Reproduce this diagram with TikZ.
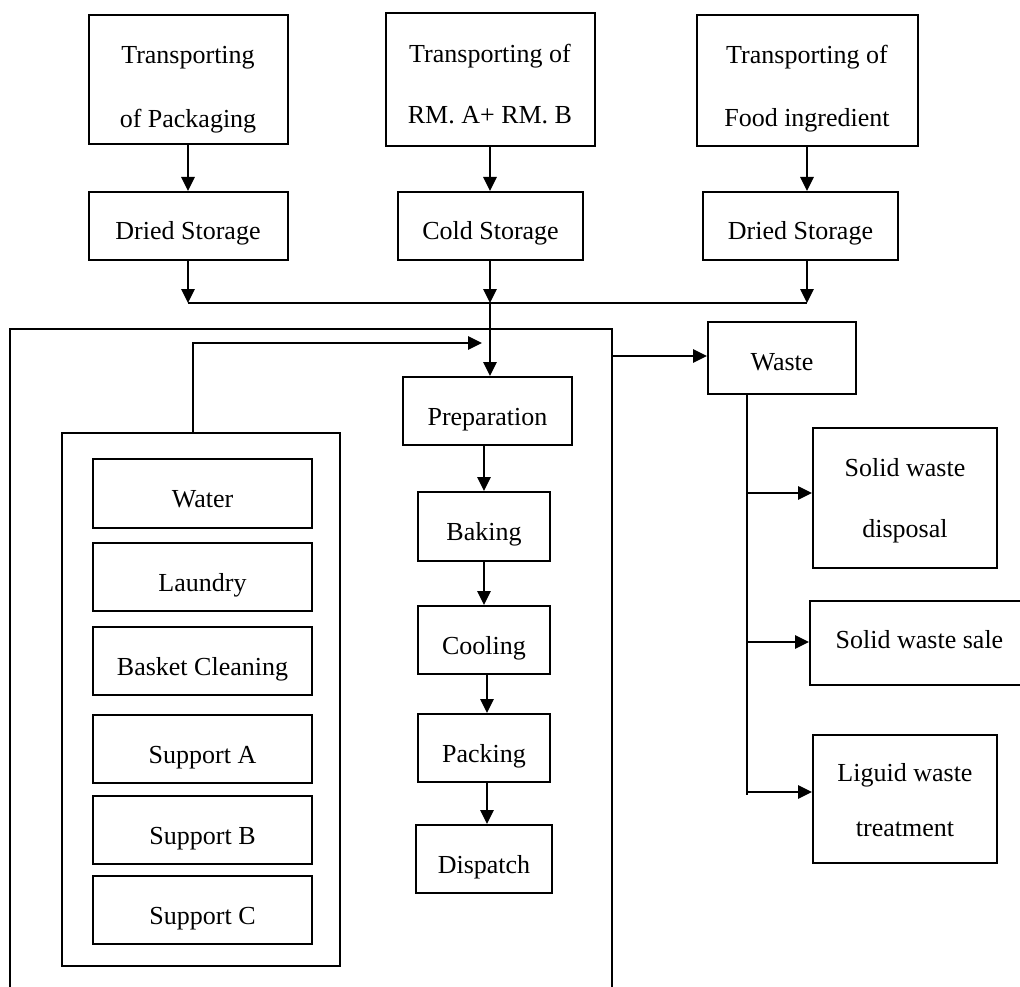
\documentclass[tikz,border=0pt]{standalone}
\usepackage{fontspec}
\setmainfont{Liberation Serif}
\usetikzlibrary{arrows.meta}
% invisible strut that lowers the text block inside a box
\newcommand\lift[1]{\rule{0pt}{#1}}
\begin{document}
\begin{tikzpicture}[x=1pt,y=-1pt,
  box/.style={draw, line width=2pt, inner sep=0pt, align=center,
              font=\fontsize{26}{31}\selectfont},
  one/.style={box, text height=28pt, text depth=0pt},
  two/.style={box, font=\fontsize{26}{#1}\selectfont},
  frame/.style={draw, line width=2pt, inner sep=0pt},
  wire/.style={line width=1.6pt},
  flow/.style={line width=1.6pt, -{Triangle[length=14pt,width=13.5pt]}}]
\useasboundingbox (0,0) rectangle (1020,987);

% incoming transport and storage
\node[two=64, minimum width=199pt, minimum height=129pt] (tp) at (188,79.5)
  {\lift{36.7pt}Transporting\\of Packaging};
\node[two=61, minimum width=209pt, minimum height=133pt] (tr) at (490,79.5)
  {\lift{28pt}Transporting of\\RM. A+ RM. B};
\node[two=63, minimum width=221pt, minimum height=131pt] (tf) at (807,80.5)
  {\lift{33.7pt}Transporting of\\Food ingredient};
\node[one, minimum width=199pt, minimum height=68pt] (ds1) at (188,226) {Dried Storage};
\node[one, minimum width=185pt, minimum height=68pt] (cs)  at (490.5,226) {Cold Storage};
\node[one, minimum width=195pt, minimum height=68pt] (ds3) at (800.5,226) {Dried Storage};

% plant outline (open at the bottom)
\draw[line width=2pt] (10,995) -- (10,329) -- (612,329) -- (612,995);

% support services
\node[frame, minimum width=278pt, minimum height=533pt] (svc) at (201,699.5) {};
\node[one, minimum width=219pt, minimum height=69pt] (water) at (202.5,493.5) {Water};
\node[one, minimum width=219pt, minimum height=68pt] (laundry) at (202.5,577) {Laundry};
\node[one, minimum width=219pt, minimum height=68pt] (basket) at (202.5,661) {Basket Cleaning};
\node[one, minimum width=219pt, minimum height=68pt] (supa) at (202.5,749) {Support A};
\node[one, minimum width=219pt, minimum height=68pt] (supb) at (202.5,830) {Support B};
\node[one, minimum width=219pt, minimum height=68pt] (supc) at (202.5,910) {Support C};

% production line
\node[one, minimum width=169pt, minimum height=68pt] (prep) at (487.5,411) {Preparation};
\node[one, minimum width=132pt, minimum height=69pt] (bake) at (484,526.5) {Baking};
\node[one, minimum width=132pt, minimum height=68pt] (cool) at (484,640) {Cooling};
\node[one, minimum width=132pt, minimum height=68pt] (pack) at (484,748) {Packing};
\node[one, minimum width=136pt, minimum height=68pt] (disp) at (484,859) {Dispatch};

% waste handling
\node[one, text height=24pt, minimum width=148pt, minimum height=72pt] (waste) at (782,358) {Waste};
\node[two=61.3, minimum width=184pt, minimum height=140pt] (swd) at (905,498)
  {\lift{24pt}Solid waste\\disposal};
\node[one, text height=10pt, minimum width=219pt, minimum height=84pt] (sws) at (919.5,643)
  {Solid waste sale};
\node[two=55, minimum width=184pt, minimum height=128pt] (lwt) at (905,799)
  {\lift{20.4pt}Liguid waste\\treatment};

% transport to storage
\draw[flow] (tp.south) -- (tp.south |- ds1.north);
\draw[flow] (tr.south) -- (tr.south |- cs.north);
\draw[flow] (tf.south) -- (tf.south |- ds3.north);

% storage to collecting line
\coordinate (jl) at (188,303);
\coordinate (jm) at (490,303);
\coordinate (jr) at (807,303);
\draw[flow] (ds1.south -| jl) -- (jl);
\draw[flow] (cs.south -| jm) -- (jm);
\draw[flow] (ds3.south -| jr) -- (jr);
\draw[wire] (jl) -- (jr);
\draw[flow] (jm) -- (prep.north -| jm);

% support services feed
\coordinate (sv) at (193,343);
\coordinate (inlet) at (482,343);
\draw[flow] (svc.north -| sv) -- (sv) -- (inlet);

% production chain
\draw[flow] (prep.south -| bake.center) -- (bake.north);
\draw[flow] (bake.south) -- (cool.north);
\draw[flow] ([xshift=3pt]cool.south) -- ([xshift=3pt]pack.north);
\draw[flow] ([xshift=3pt]pack.south) -- ([xshift=3pt]disp.north);

% waste out of the plant
\coordinate (hall) at (612,356);
\draw[flow] (hall) -- (hall -| waste.west);
\coordinate (t1) at (747,493);
\coordinate (t2) at (747,642);
\coordinate (t3) at (747,792);
\coordinate (tend) at (747,795);
\draw[wire] (waste.south -| tend) -- (tend);
\draw[flow] (t1) -- (t1 -| swd.west);
\draw[flow] (t2) -- (t2 -| sws.west);
\draw[flow] (t3) -- (t3 -| lwt.west);
\end{tikzpicture}
\end{document}
